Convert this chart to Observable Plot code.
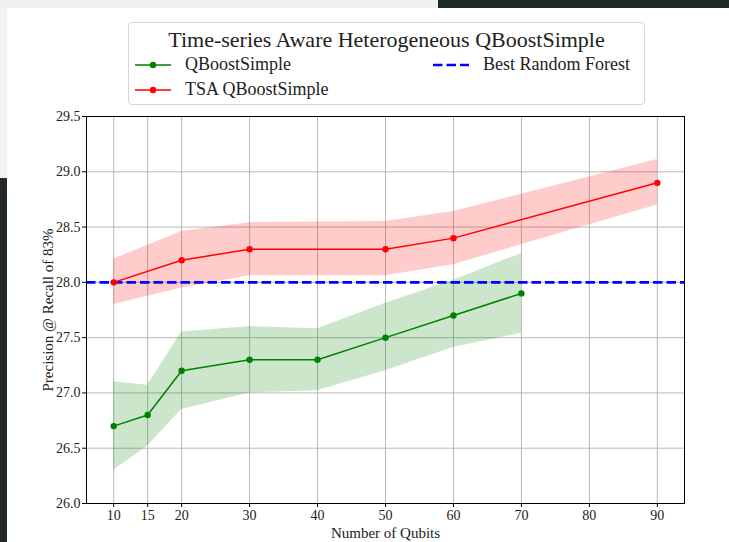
<!DOCTYPE html>
<html>
<head>
<meta charset="utf-8">
<script src="https://cdn.jsdelivr.net/npm/d3@7"></script>
<script src="https://cdn.jsdelivr.net/npm/@observablehq/plot@0.6"></script>
<style>
  html, body { margin: 0; padding: 0; background: #fff; }
  body { width: 729px; height: 542px; position: relative; overflow: hidden; font-family: "Liberation Serif", serif; }
  #chart { position: absolute; left: 0; top: 0; }
  .legend { position: absolute; left: 128px; top: 22px; width: 515px; height: 81px; border: 1px solid #d6d6d6; border-radius: 4px; background: rgba(255,255,255,0.85); color: #222; }
  .legend .ttl { position: absolute; left: 0; width: 100%; top: 4px; text-align: center; font-size: 22px; }
  .legend .ent { position: absolute; font-size: 18px; display: flex; align-items: center; }
  .legend .ent svg { margin-right: 14px; }
  .art { position: absolute; }
</style>
</head>
<body>
<div class="art" style="left:0;top:0;width:438px;height:8px;background:#efefef"></div>
<div class="art" style="left:438px;top:0;width:291px;height:8px;background:#1d2b28"></div>
<div class="art" style="left:0;top:8px;width:7px;height:170px;background:#f2f2f2"></div>
<div class="art" style="left:0;top:178px;width:7px;height:364px;background:#232927"></div>
<div id="chart"></div>
<script>
// ---- data ----
const qubitsG   = [10, 15, 20, 30, 40, 50, 60, 70];
const greenMean = [26.7, 26.8, 27.2, 27.3, 27.3, 27.5, 27.7, 27.9];
const greenLo   = [26.30, 26.52, 26.85, 27.00, 27.02, 27.20, 27.41, 27.54];
const greenHi   = [27.10, 27.07, 27.55, 27.60, 27.58, 27.81, 28.02, 28.26];

const qubitsR = [10, 20, 30, 50, 60, 90];
const redMean = [28.0, 28.2, 28.3, 28.3, 28.4, 28.9];
const redLo   = [27.80, 27.95, 28.06, 28.06, 28.16, 28.70];
const redHi   = [28.21, 28.46, 28.54, 28.55, 28.64, 29.11];

const bestRF = 28.0;

const xTicks = [10, 15, 20, 30, 40, 50, 60, 70, 80, 90];
const yTicks = [26.0, 26.5, 27.0, 27.5, 28.0, 28.5, 29.0, 29.5];

const titleText = "Time-series Aware Heterogeneous QBoostSimple";
const seriesNames = ["QBoostSimple", "TSA QBoostSimple", "Best Random Forest"];
const xLabel = "Number of Qubits";
const yLabel = "Precision @ Recall of 83%";

const green = qubitsG.map((q, i) => ({q, m: greenMean[i], lo: greenLo[i], hi: greenHi[i]}));
const red = qubitsR.map((q, i) => ({q, m: redMean[i], lo: redLo[i], hi: redHi[i]}));

const plot = Plot.plot({
  width: 729,
  height: 542,
  marginLeft: 86,
  marginRight: 45,
  marginTop: 116,
  marginBottom: 39,
  style: {fontFamily: "Liberation Serif, serif", fontSize: "14px", color: "#222", background: "transparent"},
  x: {domain: [6, 94], label: null},
  y: {domain: [26, 29.5], label: null},
  marks: [
    Plot.gridX(xTicks, {stroke: "#b0b0b0", strokeOpacity: 1, strokeWidth: 0.9}),
    Plot.gridY(yTicks, {stroke: "#b0b0b0", strokeOpacity: 1, strokeWidth: 0.9}),
    Plot.areaY(green, {x: "q", y1: "lo", y2: "hi", fill: "green", fillOpacity: 0.2}),
    Plot.areaY(red, {x: "q", y1: "lo", y2: "hi", fill: "red", fillOpacity: 0.2}),
    Plot.ruleY([bestRF], {stroke: "blue", strokeWidth: 2.6, strokeDasharray: "9.5,4"}),
    Plot.line(green, {x: "q", y: "m", stroke: "green", strokeWidth: 1.5}),
    Plot.dot(green, {x: "q", y: "m", fill: "green", r: 3.2}),
    Plot.line(red, {x: "q", y: "m", stroke: "red", strokeWidth: 1.5}),
    Plot.dot(red, {x: "q", y: "m", fill: "red", r: 3.2}),
    Plot.axisX(xTicks, {tickSize: 4, tickPadding: 3, stroke: "#000", fontSize: 14, label: null}),
    Plot.axisX({ticks: [], tickSize: 0, fontSize: 15,
      label: xLabel, labelAnchor: "center", labelArrow: "none", labelOffset: 34}),
    Plot.axisY(yTicks, {tickSize: 4, tickPadding: 2, stroke: "#000", fontSize: 14, tickFormat: d3.format(".1f"), label: null}),
    Plot.axisY({ticks: [], tickSize: 0, fontSize: 15,
      label: yLabel, labelAnchor: "center", labelArrow: "none", labelOffset: 44}),
    Plot.frame({stroke: "#000", strokeWidth: 1})
  ]
});
document.getElementById("chart").appendChild(plot);

// ---- legend (HTML overlay) ----
function handle(color, dashed) {
  const w = 36;
  if (dashed) {
    return `<svg width="${w}" height="10"><line x1="0" y1="5" x2="${w}" y2="5" stroke="${color}" stroke-width="2.6" stroke-dasharray="9.5,4"/></svg>`;
  }
  return `<svg width="${w}" height="10"><line x1="0" y1="5" x2="${w}" y2="5" stroke="${color}" stroke-width="1.5"/><circle cx="${w/2}" cy="5" r="3.2" fill="${color}"/></svg>`;
}
const legend = document.createElement("div");
legend.className = "legend";
legend.innerHTML = `
  <div class="ttl">${titleText}</div>
  <div class="ent" style="left:6px;top:31px">${handle("green")}<span>${seriesNames[0]}</span></div>
  <div class="ent" style="left:6px;top:56px">${handle("red")}<span>${seriesNames[1]}</span></div>
  <div class="ent" style="left:304px;top:31px">${handle("blue", true)}<span>${seriesNames[2]}</span></div>
`;
document.body.appendChild(legend);
</script>
</body>
</html>
